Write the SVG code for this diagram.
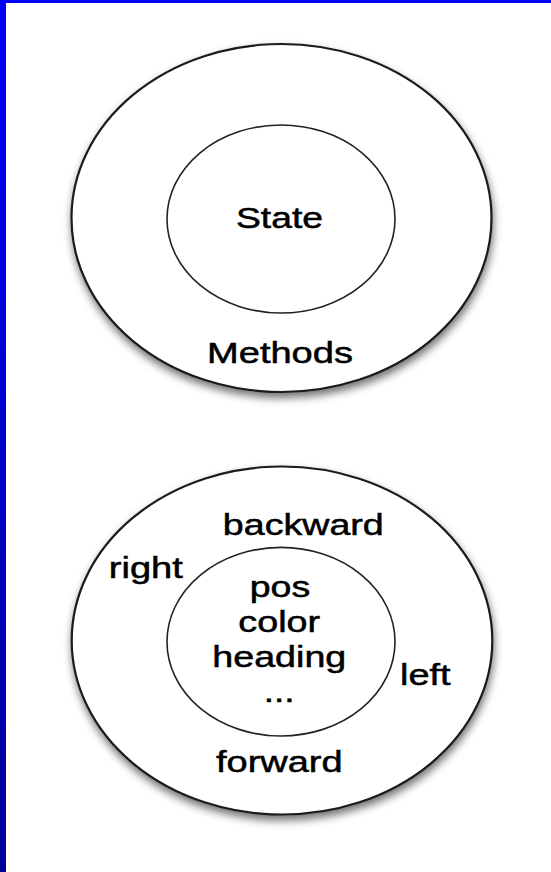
<svg xmlns="http://www.w3.org/2000/svg" width="551" height="872" viewBox="0 0 551 872">
  <defs>
    <linearGradient id="edge" x1="0" y1="0" x2="0" y2="1">
      <stop offset="0" stop-color="#0000ff"/>
      <stop offset="1" stop-color="#000099"/>
    </linearGradient>
    <filter id="shadow" x="-20%" y="-20%" width="140%" height="145%">
      <feDropShadow dx="1" dy="5" stdDeviation="4" flood-color="#000" flood-opacity="0.55"/>
    </filter>
  </defs>
  <style>
    .outer { fill: #fff; stroke: #1a1a1a; stroke-width: 2.2; filter: url(#shadow); }
    .inner { fill: none; stroke: #222; stroke-width: 1.6; }
    .lbl { font-family: "Liberation Sans", Arial, sans-serif; font-size: 29px; fill: #000; stroke: #000; stroke-width: 0.5; text-anchor: middle; }
  </style>
  <rect x="0" y="0" width="551" height="872" fill="#fff"/>
  <rect x="0" y="0" width="551" height="3" fill="#0000ff"/>
  <rect x="0" y="0" width="6" height="872" fill="url(#edge)"/>

  <g id="object-generic">
    <ellipse class="outer" cx="281.5" cy="218" rx="210" ry="174"/>
    <g id="state">
      <ellipse class="inner" cx="281" cy="219" rx="114" ry="94"/>
      <text class="lbl" x="279.5" y="227.5" textLength="87" lengthAdjust="spacingAndGlyphs">State</text>
    </g>
    <text class="lbl" x="280" y="362.5" textLength="146" lengthAdjust="spacingAndGlyphs">Methods</text>
  </g>

  <g id="object-turtle">
    <ellipse class="outer" cx="282" cy="640.5" rx="210.3" ry="174"/>
    <text class="lbl" x="303.3" y="535" textLength="161" lengthAdjust="spacingAndGlyphs">backward</text>
    <text class="lbl" x="145.8" y="577.5" textLength="74" lengthAdjust="spacingAndGlyphs">right</text>
    <text class="lbl" x="425.3" y="685" textLength="50.5" lengthAdjust="spacingAndGlyphs">left</text>
    <text class="lbl" x="279.3" y="771.7" textLength="126.5" lengthAdjust="spacingAndGlyphs">forward</text>
    <g id="turtle-state">
      <ellipse class="inner" cx="281" cy="641.7" rx="114" ry="94.3"/>
      <text class="lbl" x="280" y="596.7" textLength="60.5" lengthAdjust="spacingAndGlyphs">pos</text>
      <text class="lbl" x="279.2" y="631.7" textLength="81.7" lengthAdjust="spacingAndGlyphs">color</text>
      <text class="lbl" x="279.3" y="666.7" textLength="134" lengthAdjust="spacingAndGlyphs">heading</text>
      <text class="lbl" x="279.2" y="701.7" textLength="31" lengthAdjust="spacingAndGlyphs">...</text>
    </g>
  </g>
</svg>
